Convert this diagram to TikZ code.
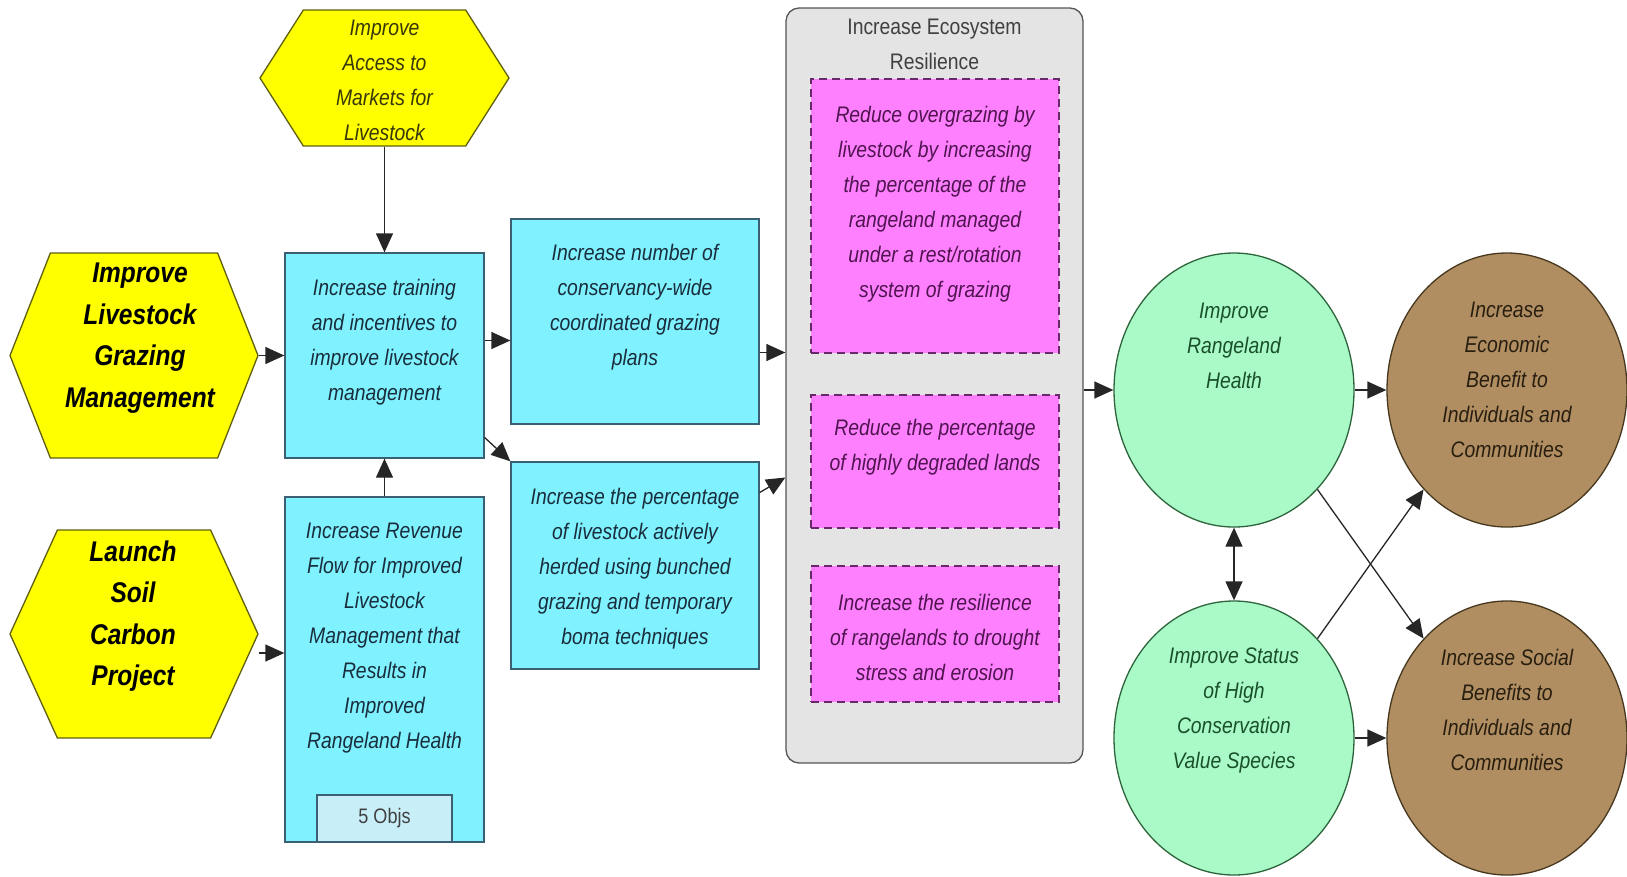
\documentclass[tikz,border=0pt]{standalone}
\usepackage{fontspec}
\setmainfont{Liberation Sans}[FakeStretch=0.86]
\usetikzlibrary{shapes.geometric,shapes.symbols,arrows.meta}
\definecolor{hexfill}{RGB}{255,255,0}
\definecolor{hexline}{RGB}{95,95,15}
\definecolor{hextext}{RGB}{55,55,10}
\definecolor{cyanfill}{RGB}{128,242,255}
\definecolor{cyanline}{RGB}{60,95,115}
\definecolor{cyantext}{RGB}{25,45,60}
\definecolor{objsfill}{RGB}{200,238,248}
\definecolor{greyfill}{RGB}{228,228,228}
\definecolor{greyline}{RGB}{85,85,85}
\definecolor{pinkfill}{RGB}{255,128,255}
\definecolor{pinkline}{RGB}{105,40,105}
\definecolor{pinktext}{RGB}{80,20,80}
\definecolor{mintfill}{RGB}{170,250,200}
\definecolor{mintline}{RGB}{45,100,60}
\definecolor{minttext}{RGB}{25,80,40}
\definecolor{brownfill}{RGB}{176,142,98}
\definecolor{brownline}{RGB}{70,55,30}
\definecolor{browntext}{RGB}{40,30,15}
\tikzset{
  shapebox/.style={inner sep=0pt, line width=1.3pt},
  hexa/.style={shapebox, signal, signal to=east and west, draw=hexline, fill=hexfill},
  cyanbox/.style={shapebox, rectangle, draw=cyanline, fill=cyanfill},
  objsbox/.style={shapebox, rectangle, draw=cyanline, fill=objsfill, minimum width=135pt,
    minimum height=47pt, text=black!75, font=\fontsize{21}{26}\selectfont},
  greybox/.style={shapebox, rectangle, rounded corners=13pt, draw=greyline, fill=greyfill},
  pinkbox/.style={shapebox, rectangle, draw=pinkline, fill=pinkfill, dash pattern=on 8pt off 5pt,
    minimum width=248pt},
  goal/.style={shapebox, ellipse, minimum width=240pt, minimum height=274pt},
  mintgoal/.style={goal, draw=mintline, fill=mintfill},
  browngoal/.style={goal, draw=brownline, fill=brownfill},
  txt/.style={align=center, inner sep=0pt, font=\fontsize{22.5}{35}\selectfont\itshape},
  bigtxt/.style={align=center, inner sep=0pt, font=\fontsize{28.5}{41.5}\selectfont\bfseries\itshape},
  arr/.style={line width=1.3pt, draw=black!85}
}
\begin{document}
\begin{tikzpicture}[x=1pt, y=-1pt, >={Triangle[length=19pt,width=17pt]}]
  \useasboundingbox (0,0) rectangle (1627,876);

  \node[hexa, signal pointer angle=115, minimum width=249pt, minimum height=136pt] (mkt) at (384.5,78) {};
  \node[hexa, signal pointer angle=137, minimum width=248pt, minimum height=205pt] (graz) at (134,355.5) {};
  \node[hexa, signal pointer angle=131, minimum width=248pt, minimum height=208pt] (soil) at (134,634) {};
  \node[txt, text=hextext] (mkt-t) at (384.5,80) {Improve\\Access to\\Markets for\\Livestock};
  \node[bigtxt] (graz-t) at (140,338) {Improve\\Livestock\\Grazing\\Management};
  \node[bigtxt] (soil-t) at (133,616) {Launch\\Soil\\Carbon\\Project};

  \node[cyanbox, minimum width=199pt, minimum height=205pt] (train) at (384.5,355.5) {};
  \node[cyanbox, minimum width=199pt, minimum height=345pt] (rev) at (384.5,669.5) {};
  \node[objsbox] (objs) at (384.5,818.5) {5 Objs};
  \node[cyanbox, minimum width=248pt, minimum height=205pt] (plans) at (635,321.5) {};
  \node[cyanbox, minimum width=248pt, minimum height=207pt] (herd) at (635,565.5) {};
  \node[txt, text=cyantext] (train-t) at (384.5,342) {Increase training\\and incentives to\\improve livestock\\management};
  \node[txt, text=cyantext] (rev-t) at (384.5,638) {Increase Revenue\\Flow for Improved\\Livestock\\Management that\\Results in\\Improved\\Rangeland Health};
  \node[txt, text=cyantext] (plans-t) at (635,307) {Increase number of\\conservancy-wide\\coordinated grazing\\plans};
  \node[txt, text=cyantext] (herd-t) at (635,569) {Increase the percentage\\of livestock actively\\herded using bunched\\grazing and temporary\\boma techniques};

  \node[greybox, minimum width=297pt, minimum height=755pt] (eco) at (934.5,385.5) {};
  \node[txt, font=\fontsize{22.5}{35}\selectfont, text=black!75] (eco-t) at (934.5,44.5) {Increase Ecosystem\\Resilience};
  \foreach \n/\y/\h in {over/216/274, degr/461.5/133, drou/634/136}
    \node[pinkbox, minimum height=\h pt] (\n) at (935,\y) {};
  \node[txt, text=pinktext] (over-t) at (935,204.5) {Reduce overgrazing by\\livestock by increasing\\the percentage of the\\rangeland managed\\under a rest/rotation\\system of grazing};
  \node[txt, text=pinktext] (degr-t) at (935,447) {Reduce the percentage\\of highly degraded lands};
  \node[txt, text=pinktext] (drou-t) at (935,637) {Increase the resilience\\of rangelands to drought\\stress and erosion};

  \node[mintgoal] (rl) at (1234,390) {};
  \node[mintgoal] (stat) at (1234,738) {};
  \node[browngoal] (econ) at (1507,390) {};
  \node[browngoal] (soc) at (1507,738) {};
  \node[txt, text=minttext] (rl-t) at (1234,346) {Improve\\Rangeland\\Health};
  \node[txt, text=minttext] (stat-t) at (1234,710) {Improve Status\\of High\\Conservation\\Value Species};
  \node[txt, text=browntext] (econ-t) at (1507,380) {Increase\\Economic\\Benefit to\\Individuals and\\Communities};
  \node[txt, text=browntext] (soc-t) at (1507,710) {Increase Social\\Benefits to\\Individuals and\\Communities};

  \draw[arr, ->] (mkt.south) -- (train.north);
  \draw[arr, ->] (graz.east) -- (train.west);
  \draw[arr, ->] ([yshift=-19pt]soil.east) -- ([yshift=-19pt]soil.east -| rev.west);
  \draw[arr, ->] (rev.north) -- (train.south);
  \draw[arr, ->] ([yshift=15pt]train.east) -- ([yshift=15pt]train.east -| plans.west);
  \draw[arr, ->] ([yshift=-82pt]train.east) -- (herd.north west);
  \draw[arr, ->] ([yshift=-31pt]plans.east) -- ([yshift=-31pt]plans.east -| eco.west);
  \draw[arr, ->] ([yshift=73pt]herd.east) -- ([yshift=-92pt]eco.west);
  \draw[arr, ->] (eco.east |- rl.west) -- (rl.west);
  \draw[arr, ->] (rl) -- (econ);
  \draw[arr, <->] (rl) -- (stat);
  \draw[arr, ->] (rl.-50) -- (soc.130);
  \draw[arr, ->] (stat.50) -- (econ.-130);
  \draw[arr, ->] (stat) -- (soc);
\end{tikzpicture}
\end{document}
